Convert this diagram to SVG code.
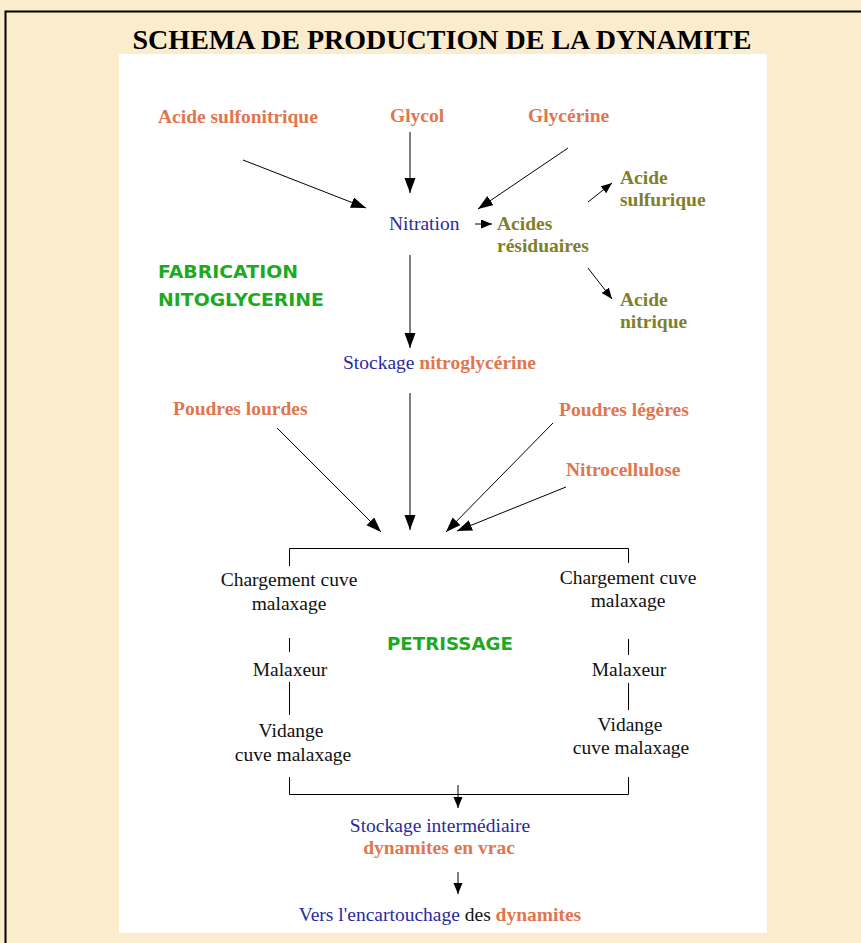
<svg xmlns="http://www.w3.org/2000/svg" width="861" height="943" viewBox="0 0 861 943">
<defs>
<marker id="ah" markerUnits="userSpaceOnUse" markerWidth="16" markerHeight="12" refX="15" refY="5.5" orient="auto">
<path d="M0,0 L15,5.5 L0,11 z" fill="#000"/>
</marker>
<marker id="ahs" markerUnits="userSpaceOnUse" markerWidth="12" markerHeight="10" refX="11" refY="4.5" orient="auto">
<path d="M0,0 L11,4.5 L0,9 z" fill="#000"/>
</marker>
</defs>
<style>
.t{font-family:"Liberation Serif","Times New Roman",serif;font-size:19.5px}
.b{font-weight:bold}
.or{fill:#e0764e}
.bl{fill:#2a2a9e}
.ol{fill:#80802a}
.bk{fill:#111}
.gr{font-family:"Comic Sans MS","DejaVu Sans",sans-serif;font-size:17px;fill:#1eaa1e;font-weight:bold}
.c{stroke:#000;stroke-width:1;fill:none}
.a{marker-end:url(#ah)}
.as{marker-end:url(#ahs)}
</style>
<rect x="0" y="0" width="861" height="943" fill="#fbecce"/>
<path d="M5.5,943 V11.5 H861" fill="none" stroke="#000" stroke-width="2"/>
<text x="442" y="49" text-anchor="middle" font-family="Liberation Serif,serif" font-weight="bold" font-size="27" fill="#000" textLength="619" lengthAdjust="spacingAndGlyphs">SCHEMA DE PRODUCTION DE LA DYNAMITE</text>
<rect x="119" y="54" width="648" height="879" fill="#fff"/>

<g id="connectors">
<line class="c a" x1="243" y1="160" x2="366" y2="208"/>
<line class="c a" x1="410" y1="132" x2="410" y2="193"/>
<line class="c a" x1="568" y1="148" x2="478" y2="209"/>
<line class="c as" x1="475" y1="224" x2="492" y2="224"/>
<line class="c as" x1="588" y1="202" x2="612" y2="183"/>
<line class="c as" x1="588" y1="268" x2="612" y2="299"/>
<line class="c a" x1="410" y1="255" x2="410" y2="348"/>
<line class="c a" x1="410" y1="393" x2="410" y2="530"/>
<line class="c a" x1="277" y1="428" x2="381" y2="532"/>
<line class="c a" x1="553" y1="423" x2="446" y2="532"/>
<line class="c a" x1="566" y1="487" x2="457" y2="531"/>
<path class="c" d="M289.5,566 V548.5 H628.5 V563"/>
<line class="c" x1="289.5" y1="638" x2="289.5" y2="652"/>
<line class="c" x1="289.5" y1="682" x2="289.5" y2="715"/>
<line class="c" x1="628.5" y1="639" x2="628.5" y2="655"/>
<line class="c" x1="628.5" y1="683" x2="628.5" y2="710"/>
<path class="c" d="M289.5,777 V794.5 H628.5 V777"/>
<line class="c as" x1="458" y1="785" x2="458" y2="808"/>
<line class="c as" x1="458" y1="872" x2="458" y2="894"/>
</g>

<g id="acide-sulfonitrique"><text class="t b or" x="158" y="123">Acide sulfonitrique</text></g>
<g id="glycol"><text class="t b or" x="390" y="122">Glycol</text></g>
<g id="glycerine"><text class="t b or" x="528" y="122">Glycérine</text></g>
<g id="nitration"><text class="t bl" x="389" y="230">Nitration</text></g>
<g id="acides-residuaires"><text class="t b ol" x="497" y="230">Acides</text><text class="t b ol" x="497" y="252">résiduaires</text></g>
<g id="acide-sulfurique"><text class="t b ol" x="620" y="184">Acide</text><text class="t b ol" x="620" y="206">sulfurique</text></g>
<g id="acide-nitrique"><text class="t b ol" x="620" y="306">Acide</text><text class="t b ol" x="620" y="328">nitrique</text></g>
<g id="fabrication"><text class="gr" x="158" y="278" textLength="140" lengthAdjust="spacingAndGlyphs">FABRICATION</text><text class="gr" x="158" y="306" textLength="166" lengthAdjust="spacingAndGlyphs">NITOGLYCERINE</text></g>
<g id="stockage-nitro"><text class="t" x="343" y="369"><tspan class="bl">Stockage </tspan><tspan class="b or">nitroglycérine</tspan></text></g>
<g id="poudres-lourdes"><text class="t b or" x="173" y="415">Poudres lourdes</text></g>
<g id="poudres-legeres"><text class="t b or" x="559" y="416">Poudres légères</text></g>
<g id="nitrocellulose"><text class="t b or" x="566" y="476">Nitrocellulose</text></g>
<g id="chargement-gauche"><text class="t bk" x="289" y="586" text-anchor="middle">Chargement cuve</text><text class="t bk" x="289" y="610" text-anchor="middle">malaxage</text></g>
<g id="chargement-droite"><text class="t bk" x="628" y="584" text-anchor="middle">Chargement cuve</text><text class="t bk" x="628" y="607" text-anchor="middle">malaxage</text></g>
<g id="petrissage"><text class="gr" x="450" y="650" text-anchor="middle" textLength="126" lengthAdjust="spacingAndGlyphs">PETRISSAGE</text></g>
<g id="malaxeur-gauche"><text class="t bk" x="290" y="676" text-anchor="middle">Malaxeur</text></g>
<g id="malaxeur-droite"><text class="t bk" x="629" y="676" text-anchor="middle">Malaxeur</text></g>
<g id="vidange-gauche"><text class="t bk" x="291" y="737" text-anchor="middle">Vidange</text><text class="t bk" x="293" y="761" text-anchor="middle">cuve malaxage</text></g>
<g id="vidange-droite"><text class="t bk" x="630" y="731" text-anchor="middle">Vidange</text><text class="t bk" x="631" y="754" text-anchor="middle">cuve malaxage</text></g>
<g id="stockage-intermediaire"><text class="t bl" x="440" y="832" text-anchor="middle">Stockage intermédiaire</text><text class="t b or" x="439" y="854" text-anchor="middle">dynamites en vrac</text></g>
<g id="encartouchage"><text class="t" x="440" y="921" text-anchor="middle"><tspan class="bl">Vers l'encartouchage </tspan><tspan class="bk">des </tspan><tspan class="b or">dynamites</tspan></text></g>
</svg>
